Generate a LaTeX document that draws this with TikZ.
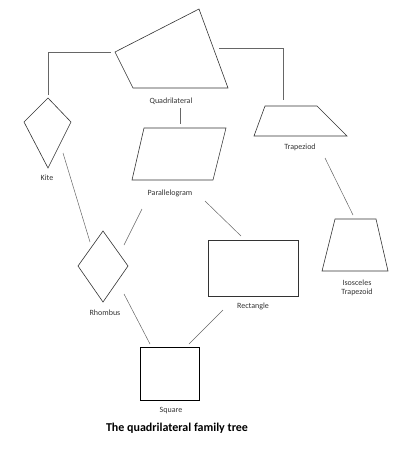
\documentclass[tikz,border=0pt]{standalone}
\usepackage{fontspec}
\setmainfont{Carlito}
\tikzset{
  figure/.style={draw=black!80,line width=0.6pt,line join=miter},
  link/.style={draw=black!60,line width=0.5pt},
  lbl/.style={font=\fontsize{8}{9.5}\selectfont,text=black!80,inner sep=0pt,align=center}
}
\begin{document}
\begin{tikzpicture}[x=1pt,y=-1pt]
\useasboundingbox (0,0) rectangle (407,453);
% shapes
\draw[figure] (115,52) -- (199,9) -- (228,88) -- (133,88) -- cycle;
\draw[figure] (48,98) -- (71,122) -- (48,168) -- (24,122) -- cycle;
\draw[figure] (144,128) -- (226,128) -- (213,180) -- (132,180) -- cycle;
\draw[figure] (265,106) -- (317,106) -- (347,136) -- (254,136) -- cycle;
\draw[figure] (335,219) -- (376,219) -- (388,271) -- (322,271) -- cycle;
\draw[figure] (103,231) -- (128,266) -- (103,302) -- (78,266) -- cycle;
\draw[figure] (208,240) rectangle (298,296);
\draw[figure,draw=black] (140,347) rectangle (199,400);
% labels
\node[lbl](quad) at (171,101) {Quadrilateral};
\node[lbl](kite) at (47,178) {Kite};
\node[lbl](para) at (170,193) {Parallelogram};
\node[lbl](trap) at (300,147) {Trapeziod};
\node[lbl](isos) at (357,288) {Isosceles\\Trapezoid};
\node[lbl](rhom) at (105,313) {Rhombus};
\node[lbl](rect) at (253,306) {Rectangle};
\node[lbl](sq) at (171,411) {Square};
\node[font=\fontsize{12}{14}\selectfont\bfseries,inner sep=0pt](title) at (177,428) {The quadrilateral family tree};
% connector ends
\coordinate(qk) at (111,52); \coordinate(kq) at (48,95);
\coordinate(qt) at (219,48); \coordinate(tq) at (283,100);
\coordinate(qp1) at (180,108); \coordinate(qp2) at (180,124);
\coordinate(kr1) at (63,153); \coordinate(kr2) at (90,242);
\coordinate(pr1) at (142,209); \coordinate(pr2) at (124,245);
\coordinate(pc1) at (205,201); \coordinate(pc2) at (241,236);
\coordinate(ti1) at (325,158); \coordinate(ti2) at (353,215);
\coordinate(rs1) at (124,294); \coordinate(rs2) at (150,344);
\coordinate(cs1) at (223,310); \coordinate(cs2) at (189,344);
\draw[link] (qk) -| (kq);
\draw[link] (qt) -| (tq);
\draw[link] (qp1) -- (qp2);
\draw[link] (kr1) -- (kr2);
\draw[link] (pr1) -- (pr2);
\draw[link] (pc1) -- (pc2);
\draw[link] (ti1) -- (ti2);
\draw[link] (rs1) -- (rs2);
\draw[link] (cs1) -- (cs2);
\end{tikzpicture}
\end{document}
